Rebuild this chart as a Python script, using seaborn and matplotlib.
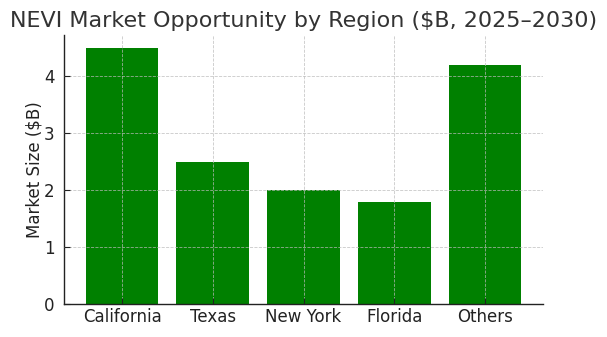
import matplotlib
matplotlib.use("Agg")
import matplotlib.pyplot as plt
import seaborn as sns
import pandas as pd

regions = ["California", "Texas", "New York", "Florida", "Others"]
market_size = [4.5, 2.5, 2.0, 1.8, 4.2]

df = pd.DataFrame({"Region": regions, "Market": market_size})

sns.set_style("white")
plt.rcParams['font.family'] = ['DejaVu Sans']

fig = plt.figure(figsize=(6.07, 3.37), dpi=100)
ax = fig.add_axes([64/607, 1 - 304/337, (543-64)/607, (304-35)/337])
sns.barplot(data=df, x="Region", y="Market", color="#008000", saturation=1,
            width=0.8, linewidth=0, ax=ax)
ax.set_xlim(-0.64, 4.64)
ax.set_ylim(0, 4.725)
ax.set_axisbelow(False)
ax.grid(True, linestyle="--", linewidth=0.6, color="#bbbbbb", alpha=0.8)
ax.set_xlabel("")
ax.set_ylabel("Market Size ($B)", fontsize=12, color="#222222", labelpad=0)
ax.set_title("NEVI Market Opportunity by Region ($B, 2025\u20132030)",
             fontsize=16, color="#333333", pad=6)
ax.tick_params(axis="both", labelsize=12, colors="#222222", length=4,
               direction="in", left=True, bottom=True)
ax.tick_params(axis="y", pad=7)
ax.tick_params(axis="x", pad=3)
ax.set_yticks([0, 1, 2, 3, 4])
for s in ["top", "right"]:
    ax.spines[s].set_visible(False)
for s in ["left", "bottom"]:
    ax.spines[s].set_color("#222222")
    ax.spines[s].set_linewidth(1.0)

fig.savefig("out.png", dpi=100)
